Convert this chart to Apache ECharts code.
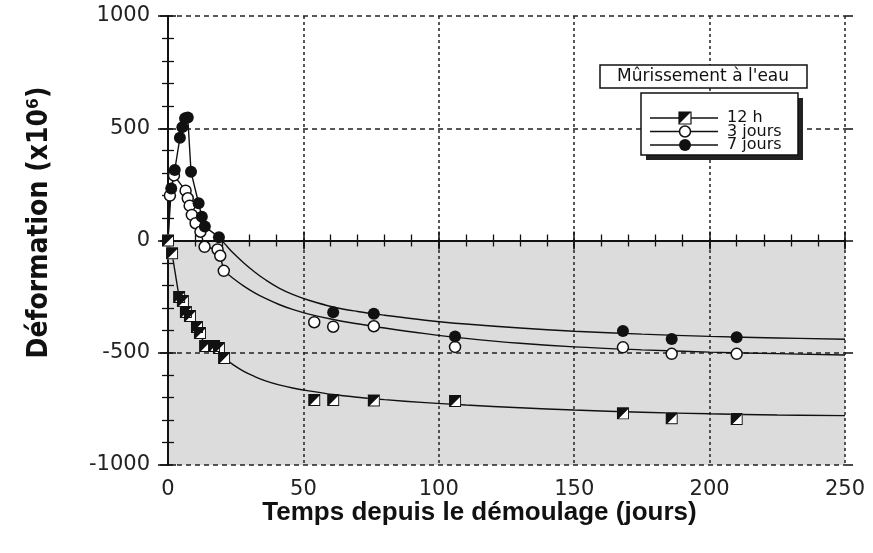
<!DOCTYPE html>
<html>
<head>
<meta charset="utf-8">
<script src="https://cdn.jsdelivr.net/npm/echarts@6/dist/echarts.min.js"></script>
<style>html,body{margin:0;padding:0;background:#fff;}#c{width:873px;height:553px;}</style>
</head>
<body>
<div id="c"></div>
<script>
// ---- data ----
const xTicks = [0, 50, 100, 150, 200, 250];
const yTicks = [-1000, -500, 0, 500, 1000];
const seriesNames = ['12 h', '3 jours', '7 jours'];
const legendTitle = "Mûrissement à l'eau";

// measured points: 12 h
const days12h = [0, 1.5, 4.1, 5.5, 6.6, 8.1, 10.7, 11.8, 13.7, 17, 18.8, 20.7, 54, 61, 76, 106, 168, 186, 210];
const strain12h = [0, -57, -252, -270, -318, -336, -385, -412, -470, -470, -479, -523, -710, -710, -713, -715, -770, -792, -795];
// measured points: 3 jours
const days3j = [0, 0.7, 2.2, 6.5, 7.3, 8, 8.8, 10.2, 12, 13.5, 18.3, 19.3, 20.6, 54, 61, 76, 106, 168, 186, 210];
const strain3j = [0, 200, 290, 222, 188, 155, 114, 77, 39, -28, -40, -68, -135, -364, -384, -382, -474, -476, -505, -505];
// measured points: 7 jours
const days7j = [0, 1.2, 2.5, 4.4, 5.3, 6.3, 7.3, 8.5, 11.3, 12.5, 13.6, 18.8, 61, 76, 106, 168, 186, 210];
const strain7j = [0, 232, 314, 458, 505, 544, 548, 306, 166, 106, 62, 15, -320, -326, -428, -403, -439, -431];

// fitted curves
const curveDays12h = [20.7, 24, 28, 32, 36, 41, 46, 52, 61, 70, 80, 95, 110, 130, 150, 175, 200, 225, 250];
const curve12h = [-523, -553, -583, -606, -625, -643, -657, -670, -686, -698, -709, -722, -733, -745, -755, -765, -772, -777, -780];
const curveDays3j = [20.6, 24, 28, 32, 36, 41, 46, 52, 61, 70, 80, 95, 110, 130, 150, 175, 200, 225, 250];
const curve3j = [-135, -168, -203, -233, -258, -285, -307, -328, -352, -371, -390, -415, -436, -458, -474, -487, -497, -504, -510];
const curveDays7j = [18.8, 21, 24, 28, 32, 36, 41, 46, 52, 61, 70, 80, 95, 110, 130, 150, 175, 200, 225, 250];
const curve7j = [15, -15, -55, -100, -140, -175, -212, -240, -266, -296, -316, -333, -355, -372, -390, -404, -417, -427, -434, -440];

// ---- build ----
const zip = (a, b) => a.map((v, i) => [v, b[i]]);
const pts12 = zip(days12h, strain12h), pts3 = zip(days3j, strain3j), pts7 = zip(days7j, strain7j);
const early = (pts, start) => pts.filter(p => p[0] <= start);

const INK = '#111';
const numFont = 'DejaVu Sans';
const halfSquare = 'path://M0,0L10,0L10,10L0,10Z M9.2,1.6L1.6,9.2L9.2,9.2Z';

const chart = echarts.init(document.getElementById('c'), null, {renderer: 'canvas'});

const baseX = {type: 'value', min: xTicks[0], max: xTicks[xTicks.length - 1], interval: 50, z: 2};
const baseY = {type: 'value', min: yTicks[0], max: yTicks[yTicks.length - 1], interval: 500, z: 2};
const hidden = {axisLabel: {show: false}, splitLine: {show: false}};

const lineSeries = (data, smooth) => ({
  type: 'line', data: data, showSymbol: false, symbol: 'none', smooth: smooth,
  lineStyle: {color: INK, width: 1.4}, z: 3, silent: true, animation: false
});

chart.setOption({
  animation: false,
  backgroundColor: '#fff',
  grid: {left: 168, right: 28, top: 16, bottom: 88},
  xAxis: [
    Object.assign({}, baseX, {
      position: 'bottom',
      axisLine: {lineStyle: {color: INK, width: 2}},
      axisTick: {inside: false, length: 8, lineStyle: {color: INK, width: 1.5}},
      axisLabel: {margin: 14, fontFamily: numFont, fontSize: 21, color: '#222', formatter: v => String(v)},
      splitLine: {show: true, lineStyle: {type: [3, 3], color: '#222', width: 1.5}},
      name: 'Temps depuis le démoulage (jours)', nameLocation: 'middle', nameGap: 35, nameMoveOverlap: false,
      nameTextStyle: {fontFamily: 'Liberation Sans', fontWeight: 'bold', fontSize: 26, color: '#111', padding: [0, 54, 0, 0]}
    }),
    Object.assign({}, baseX, hidden, {
      position: 'bottom', axisLine: {show: false},
      axisTick: {inside: true, length: 9, lineStyle: {color: INK, width: 1.5}},
      minorTick: {show: true, splitNumber: 5, length: 6, lineStyle: {color: INK, width: 1.3}}
    }),
    Object.assign({}, baseX, hidden, {
      position: 'top', axisLine: {lineStyle: {color: INK, width: 2}},
      axisTick: {inside: true, length: 9, lineStyle: {color: INK, width: 1.5}},
      minorTick: {show: true, splitNumber: 5, length: 6, lineStyle: {color: INK, width: 1.3}}
    })
  ],
  yAxis: [
    Object.assign({}, baseY, {
      position: 'left',
      axisLine: {lineStyle: {color: INK, width: 2}},
      axisTick: {inside: false, length: 10, lineStyle: {color: INK, width: 1.5}},
      axisLabel: {margin: 18, fontFamily: numFont, fontSize: 21, color: '#222', formatter: v => String(v)},
      splitLine: {show: true, lineStyle: {type: [5, 4], color: '#222', width: 1.5}},
      name: 'Déformation (x10⁶)', nameLocation: 'middle', nameGap: 114,
      nameTextStyle: {fontFamily: "'Liberation Sans Narrow', 'DejaVu Sans Condensed', sans-serif", fontWeight: 'bold', fontSize: 28, color: '#111', padding: [0, 0, 0, 36]}
    }),
    Object.assign({}, baseY, hidden, {
      position: 'left', axisLine: {show: false},
      axisTick: {inside: true, length: 8, lineStyle: {color: INK, width: 1.5}},
      minorTick: {show: true, splitNumber: 5, length: 6, lineStyle: {color: INK, width: 1.3}}
    }),
    Object.assign({}, baseY, hidden, {
      position: 'right', axisLine: {lineStyle: {color: INK, width: 2}},
      axisTick: {inside: true, length: 8, lineStyle: {color: INK, width: 1.5}},
      minorTick: {show: true, splitNumber: 5, length: 6, lineStyle: {color: INK, width: 1.3}}
    }),
    Object.assign({}, baseY, hidden, {
      position: 'right', axisLine: {show: false},
      axisTick: {inside: false, length: 8, lineStyle: {color: INK, width: 1.5}}
    })
  ],
  series: [
    // shaded negative region + zero line
    {
      type: 'line', data: [], silent: true, z: 1,
      markArea: {silent: true, z: 1, itemStyle: {color: '#dcdcdc'}, label: {show: false},
        data: [[{yAxis: yTicks[0]}, {yAxis: 0}]]},
      markLine: {silent: true, z: 2, symbol: 'none', label: {show: false},
        lineStyle: {type: 'solid', color: INK, width: 1.5}, data: [{yAxis: 0}]}
    },
    // lines
    lineSeries(early(pts12, curveDays12h[0]), false),
    lineSeries(zip(curveDays12h, curve12h), 0.4),
    lineSeries(early(pts3, curveDays3j[0]), false),
    lineSeries(zip(curveDays3j, curve3j), 0.4),
    lineSeries(early(pts7, curveDays7j[0]), false),
    lineSeries(zip(curveDays7j, curve7j), 0.4),
    // markers
    {name: seriesNames[1], type: 'scatter', data: pts3, symbol: 'circle', symbolSize: 11, z: 4,
      itemStyle: {color: '#fff', borderColor: INK, borderWidth: 1.5, opacity: 1}},
    {name: seriesNames[2], type: 'scatter', data: pts7, symbol: 'circle', symbolSize: 12, z: 5,
      itemStyle: {color: INK, opacity: 1}},
    {type: 'scatter', data: pts12, symbol: 'rect', symbolSize: 12, z: 6,
      itemStyle: {color: '#fff', opacity: 1}},
    {name: seriesNames[0], type: 'scatter', data: pts12, symbol: halfSquare, symbolSize: 12, z: 7,
      itemStyle: {color: INK, opacity: 1}}
  ],
  graphic: [
    {type: 'rect', z: 100, shape: {x: 600, y: 65, width: 207, height: 23},
      style: {fill: '#fff', stroke: INK, lineWidth: 1.5}},
    {type: 'text', z: 101, x: 703, y: 77,
      style: {text: legendTitle, fontFamily: numFont, fontSize: 17, fill: INK, align: 'center', verticalAlign: 'middle'}},
    {type: 'rect', z: 99, shape: {x: 646, y: 98, width: 157, height: 62}, style: {fill: '#222'}},
    {type: 'rect', z: 100, shape: {x: 641, y: 93, width: 157, height: 62},
      style: {fill: '#fff', stroke: INK, lineWidth: 1.5}},
    // row 1
    {type: 'line', z: 101, shape: {x1: 650, y1: 118, x2: 718, y2: 118}, style: {stroke: INK, lineWidth: 1.4}},
    {type: 'rect', z: 102, shape: {x: 679, y: 112, width: 12, height: 12}, style: {fill: '#fff', stroke: INK, lineWidth: 1.2}},
    {type: 'polygon', z: 103, shape: {points: [[679, 112], [691, 112], [679, 124]]}, style: {fill: INK}},
    {type: 'text', z: 101, x: 727, y: 118, style: {text: seriesNames[0], fontFamily: numFont, fontSize: 16, fill: INK, align: 'left', verticalAlign: 'middle'}},
    // row 2
    {type: 'line', z: 101, shape: {x1: 650, y1: 131.5, x2: 718, y2: 131.5}, style: {stroke: INK, lineWidth: 1.4}},
    {type: 'circle', z: 102, shape: {cx: 685, cy: 131.5, r: 5.5}, style: {fill: '#fff', stroke: INK, lineWidth: 1.5}},
    {type: 'text', z: 101, x: 727, y: 131.5, style: {text: seriesNames[1], fontFamily: numFont, fontSize: 16, fill: INK, align: 'left', verticalAlign: 'middle'}},
    // row 3
    {type: 'line', z: 101, shape: {x1: 650, y1: 145, x2: 718, y2: 145}, style: {stroke: INK, lineWidth: 1.4}},
    {type: 'circle', z: 102, shape: {cx: 685, cy: 145, r: 6}, style: {fill: INK}},
    {type: 'text', z: 101, x: 727, y: 145, style: {text: seriesNames[2], fontFamily: numFont, fontSize: 16, fill: INK, align: 'left', verticalAlign: 'middle'}}
  ]
});
</script>
</body>
</html>
